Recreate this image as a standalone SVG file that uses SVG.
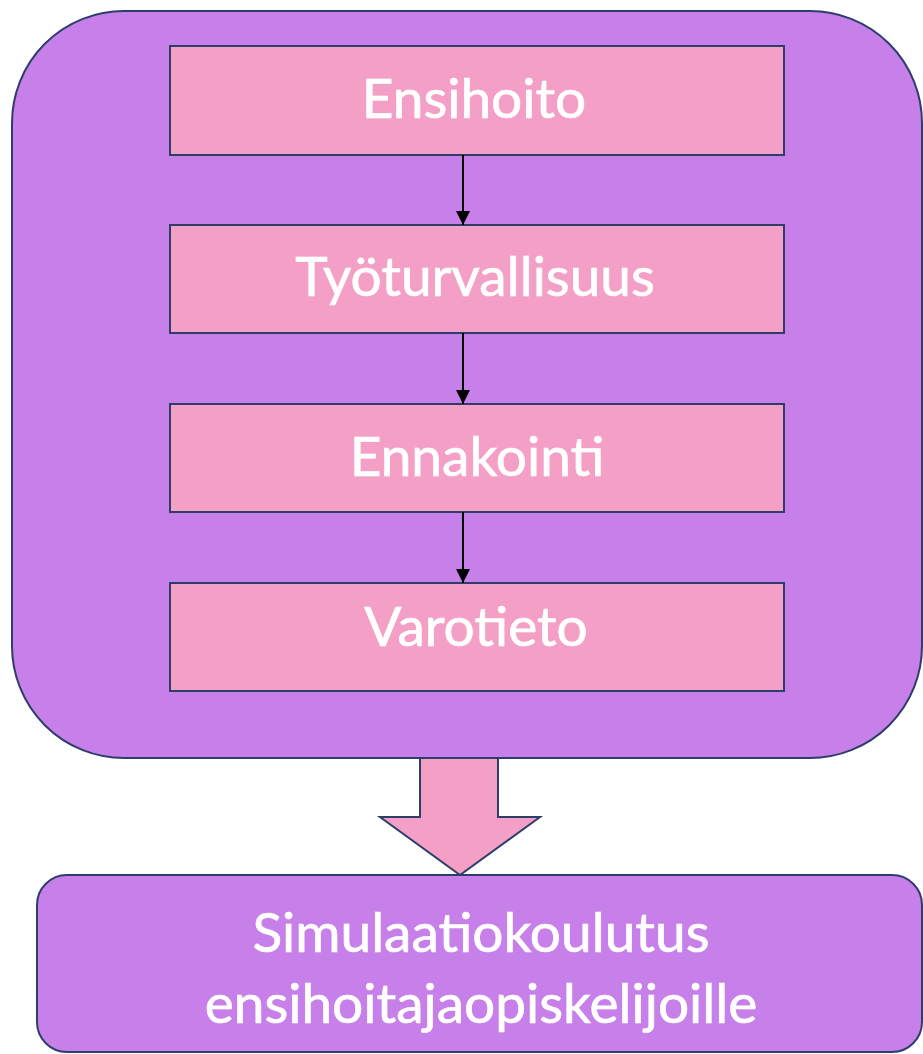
<svg xmlns="http://www.w3.org/2000/svg" width="923" height="1054" viewBox="0 0 923 1054">
<defs>
<style>
.outer{fill:#C77FE9;stroke:#2E3E6B;stroke-width:2}
.box{fill:#F4A0C6;stroke:#2E3E6B;stroke-width:2}
.lbl{font-family:Lato,"Liberation Sans",sans-serif;font-size:55px;fill:#FFFFFF;stroke:#FFFFFF;stroke-width:0.7;text-anchor:middle}
.conn{stroke:#000000;stroke-width:2;fill:none;marker-end:url(#ah)}
</style>
<marker id="ah" viewBox="0 0 14 14" refX="14" refY="7" markerWidth="14" markerHeight="14" markerUnits="userSpaceOnUse" orient="auto">
<path d="M0,0 L14,7 L0,14 z" fill="#000000"/>
</marker>
</defs>
<rect width="923" height="1054" fill="#FFFFFF"/>
<g id="container">
<rect class="outer" x="12" y="11" width="910" height="747" rx="112" ry="112"/>
</g>
<g id="n1"><rect class="box" x="170" y="46" width="614" height="109"/><text class="lbl" x="474" y="118">Ensihoito</text></g>
<g id="n2"><rect class="box" x="170" y="225" width="614" height="108"/><text class="lbl" x="475" y="296">Työturvallisuus</text></g>
<g id="n3"><rect class="box" x="170" y="404" width="614" height="108"/><text class="lbl" x="477" y="476">Ennakointi</text></g>
<g id="n4"><rect class="box" x="170" y="583" width="614" height="108"/><text class="lbl" x="476" y="646">Varotieto</text></g>
<g id="connectors">
<line class="conn" x1="463" y1="155" x2="463" y2="225"/>
<line class="conn" x1="463" y1="333" x2="463" y2="404"/>
<line class="conn" x1="463" y1="512" x2="463" y2="583"/>
<polygon class="box" points="420,758 498,758 498,817 540,817 460,875 380,817 420,817"/>
</g>
<g id="result">
<rect class="outer" x="37" y="875" width="885" height="177" rx="30" ry="30"/>
<text class="lbl" x="481" y="952">Simulaatiokoulutus</text>
<text class="lbl" x="481" y="1023">ensihoitajaopiskelijoille</text>
</g>
</svg>
